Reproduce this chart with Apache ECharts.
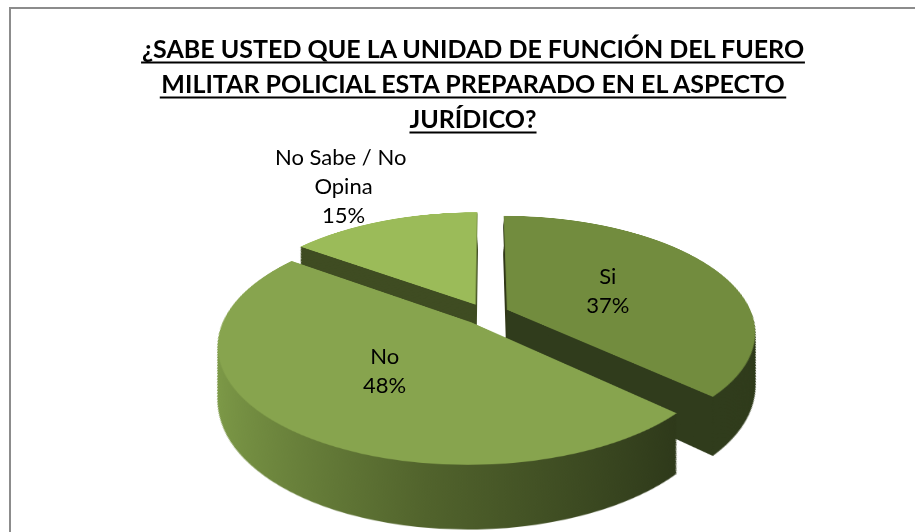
<!DOCTYPE html>
<html><head><meta charset="utf-8">
<script src="https://cdn.jsdelivr.net/npm/echarts@6/dist/echarts.min.js"></script>
<style>
html,body{margin:0;padding:0;width:915px;height:532px;overflow:hidden;background:#fff;}
#frame{position:absolute;left:9px;top:7px;width:1000px;height:1000px;border-left:2px solid #8c8c8c;border-top:2px solid #8c8c8c;}
#pie{position:absolute;left:0;top:0;width:915px;height:720px;}
#ov{position:absolute;left:0;top:0;width:915px;height:532px;}
</style></head><body>
<div id="frame"></div>
<div id="pie"></div>
<div id="ov"></div>
<script>
// ---- data ----
const categories = ['Si', 'No', 'No Sabe / No Opina'];
const values = [37, 48, 15];
const titleLines = [
  '¿SABE USTED QUE LA UNIDAD DE FUNCIÓN DEL FUERO',
  'MILITAR POLICIAL ESTA PREPARADO EN EL ASPECTO',
  'JURÍDICO?'
];

// ---- styling / 3D view parameters ----
const OX = 486, OY = 314, R = 245;
const TILT = 62.6, PERSP = 1176, DEPTH = 104, EXPLODE = 23, LAYERS = 60;
const faceColors = ['#728C3E', '#87A44E', '#9BBB59'];
const sideColors = [
  '#303C1C',
  {type: 'linear', x: 0, y: 0, x2: 1, y2: 0, colorStops: [
    {offset: 0, color: '#7E9B48'}, {offset: 0.5, color: '#51632C'}, {offset: 1, color: '#2E391A'}]},
  '#3F4C22'
];
const labelRadius = [0.47, 0.5, 1.53];
const FONT = 'Lato';

const sinT = Math.sin(TILT * Math.PI / 180), cosT = Math.cos(TILT * Math.PI / 180);

// ---- 3D pie (layers of pie series, tilted with CSS perspective) ----
const pieDiv = document.getElementById('pie');
pieDiv.style.transformOrigin = OX + 'px ' + OY + 'px';
pieDiv.style.transform = 'perspective(' + PERSP + 'px) rotateX(' + TILT + 'deg)';
const pieChart = echarts.init(pieDiv, null, {renderer: 'canvas'});
const layers = [];
for (let i = LAYERS; i >= 0; i--) {
  const d = DEPTH * i / LAYERS;
  const c = 1 - d * sinT / PERSP;
  layers.push({
    type: 'pie', silent: true, animation: false, z: 2 + (LAYERS - i),
    startAngle: 90, clockwise: true,
    center: [OX, OY + d], radius: [0, R * c],
    selectedMode: 'multiple', selectedOffset: EXPLODE * c,
    label: {show: false}, labelLine: {show: false},
    itemStyle: {borderWidth: 0},
    data: categories.map((n, k) => ({
      name: n, value: values[k], selected: true,
      itemStyle: {color: i === 0 ? faceColors[k] : sideColors[k]}
    }))
  });
}
pieChart.setOption({animation: false, series: layers});

// ---- overlay: title + labels ----
const total = values.reduce((a, b) => a + b, 0);
let acc = 0;
const mids = values.map(v => { const m = (acc + v / 2) / total * 360; acc += v; return m; });
function project(px, py) {
  const f = PERSP / (PERSP - py * sinT);
  return [OX + px * f, OY + py * cosT * f];
}
const mctx = document.createElement('canvas').getContext('2d');
const TITLE_SIZE = 25, TITLE_LH = 35, TITLE_X = 473, TITLE_Y = 30;
mctx.font = 'bold ' + TITLE_SIZE + 'px ' + FONT;
const graphics = [{
  type: 'text', x: TITLE_X, y: TITLE_Y,
  style: {text: titleLines.join('\n'), font: 'bold ' + TITLE_SIZE + 'px ' + FONT,
    fill: '#000', align: 'center', verticalAlign: 'top', lineHeight: TITLE_LH}
}];
titleLines.forEach((t, i) => {
  const w = mctx.measureText(t).width;
  const y = TITLE_Y + TITLE_LH * i + TITLE_LH / 2 + 15;
  graphics.push({type: 'line', shape: {x1: TITLE_X - w / 2, y1: y, x2: TITLE_X + w / 2, y2: y},
    style: {stroke: '#000', lineWidth: 2}});
});

const ov = echarts.init(document.getElementById('ov'), null, {renderer: 'svg'});
ov.setOption({
  animation: false,
  graphic: graphics,
  series: [{
    type: 'pie', silent: true, animation: false,
    startAngle: 90, clockwise: true, center: [OX, OY], radius: [0, R],
    percentPrecision: 0,
    itemStyle: {color: 'rgba(0,0,0,0)', borderWidth: 0},
    label: {show: true, position: 'inside', formatter: '{b}\n{d}%',
      fontFamily: FONT, fontSize: 22, lineHeight: 29, color: '#000',
      width: 150, overflow: 'break'},
    labelLine: {show: false},
    labelLayout: function (p) {
      const k = p.dataIndex;
      const a = mids[k] * Math.PI / 180;
      const rho = labelRadius[k] * R + EXPLODE;
      const pt = project(rho * Math.sin(a), -rho * Math.cos(a));
      return {x: pt[0], y: pt[1], align: 'center', verticalAlign: 'middle'};
    },
    data: categories.map((n, k) => ({name: n, value: values[k]}))
  }]
});
</script>
</body></html>
